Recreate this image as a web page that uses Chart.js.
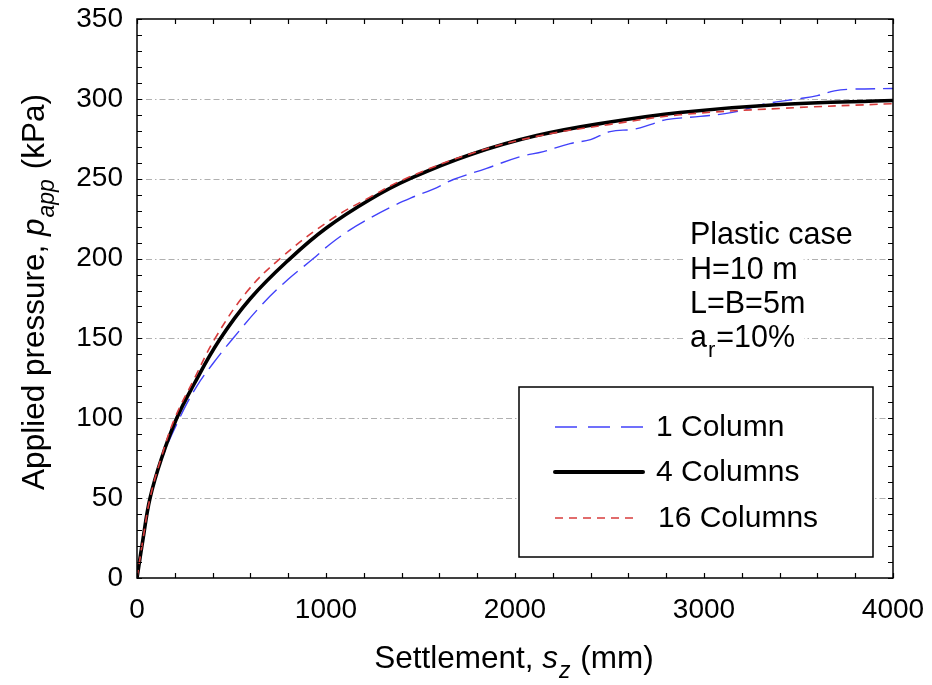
<!DOCTYPE html>
<html><head><meta charset="utf-8">
<script src="https://cdn.jsdelivr.net/npm/chart.js@4.4.1/dist/chart.umd.min.js"></script>
<style>html,body{margin:0;padding:0;background:#fff;} #wrap{width:932px;height:685px;}</style>
</head><body><div id="wrap"><canvas id="c" width="932" height="685"></canvas></div>
<script>
// ---- data ----
const seriesNames = ['1 Column', '4 Columns', '16 Columns'];
const sBlue = [0, 33, 69, 130, 225, 316, 400, 501, 668, 800, 933, 1021, 1127, 1197, 1339, 1450, 1568, 1674, 1850, 2026, 2150, 2291, 2400, 2503, 2630, 2720, 2800, 2980, 3150, 3330, 3500, 3600, 3690, 3770, 4000];
const pBlue = [0, 24, 49, 74, 100, 120, 134, 149, 172, 187, 200, 209, 218, 223, 232, 238, 243.5, 249.5, 256.5, 263.8, 267, 272, 274.5, 279.5, 281, 284, 287, 289, 291.5, 297, 300, 302, 305, 306, 306.5];
const sBlack = [0, 30, 69, 130, 210, 300, 436, 600, 810, 1000, 1233, 1444, 1762, 2115, 2503, 2873, 3400, 4000];
const pBlack = [0, 23, 50, 75, 100, 121, 149, 175, 200, 219, 237, 250, 265, 277, 285.5, 291.5, 296.5, 299];
const sRed = [0, 30, 69, 130, 200, 300, 413, 580, 757, 1021, 1233, 1420, 1762, 2115, 2503, 2873, 3400, 4000];
const pRed = [0, 23, 50, 76, 100, 124, 150, 179, 200, 224, 238.5, 250, 265.5, 276.5, 284, 290, 294, 297];
const xTickLabels = [0, 1000, 2000, 3000, 4000];
const yTickLabels = [0, 50, 100, 150, 200, 250, 300, 350];
const xTitle = ['Settlement, ', 's', 'z', ' (mm)'];
const yTitle = ['Applied pressure, ', 'p', 'app', ' (kPa)'];
const noteLines = ['Plastic case', 'H=10 m', 'L=B=5m'];
const noteLast = ['a', 'r', '=10%'];

const FONT = '"Liberation Sans", Arial, Helvetica, sans-serif';
const pts = (xs, ys) => xs.map((v, i) => ({x: v, y: ys[i]}));

const styles = [
  {color: 'rgb(65,65,250)', width: 1.4, dash: [20, 8]},
  {color: '#000000', width: 3.6, dash: []},
  {color: 'rgb(215,60,60)', width: 1.6, dash: [8, 6]}
];

function drawRich(ctx, parts, x, y, size, align) {
  const widths = parts.map(p => {
    ctx.font = (p.italic ? 'italic ' : '') + (p.sub ? Math.round(size * 0.72) : size) + 'px ' + FONT;
    return ctx.measureText(p.t).width + (p.sub ? 2 : 0);
  });
  const total = widths.reduce((a, b) => a + b, 0);
  let cx = align === 'center' ? x - total / 2 : x;
  parts.forEach((p, i) => {
    ctx.font = (p.italic ? 'italic ' : '') + (p.sub ? Math.round(size * 0.72) : size) + 'px ' + FONT;
    ctx.fillText(p.t, cx + (p.sub ? 1 : 0), y + (p.sub ? size * 0.32 : 0));
    cx += widths[i];
  });
  return total;
}

const deco = {
  id: 'deco',
  beforeDatasetsDraw(chart) {
    const {ctx, chartArea: a, scales: {y}} = chart;
    ctx.save();
    ctx.strokeStyle = '#b0b0b0';
    ctx.lineWidth = 1;
    ctx.setLineDash([6, 3, 6, 3, 1.5, 3]);
    yTickLabels.forEach(v => {
      if (v <= 0 || v >= 350) return;
      const py = Math.round(y.getPixelForValue(v)) + 0.5;
      ctx.beginPath(); ctx.moveTo(a.left, py); ctx.lineTo(a.right, py); ctx.stroke();
    });
    ctx.restore();
  },
  afterDatasetsDraw(chart) {
    const {ctx, chartArea: a, scales: {x, y}} = chart;
    ctx.save();
    ctx.fillStyle = '#000';
    ctx.strokeStyle = '#000';
    ctx.lineWidth = 1.5;
    ctx.strokeRect(a.left, a.top, a.right - a.left, a.bottom - a.top);
    ctx.lineWidth = 1.2;
    for (let v = 0; v <= 350; v += 10) {
      const py = Math.round(y.getPixelForValue(v)) + 0.5;
      ctx.beginPath();
      ctx.moveTo(a.left, py); ctx.lineTo(a.left + 5, py);
      ctx.moveTo(a.right, py); ctx.lineTo(a.right - 5, py);
      ctx.stroke();
    }
    for (let v = 0; v <= 4000; v += 200) {
      const px = Math.round(x.getPixelForValue(v)) + 0.5;
      ctx.beginPath();
      ctx.moveTo(px, a.bottom); ctx.lineTo(px, a.bottom - 5);
      ctx.moveTo(px, a.top); ctx.lineTo(px, a.top + 5);
      ctx.stroke();
    }
    ctx.font = '28px ' + FONT;
    ctx.textAlign = 'right'; ctx.textBaseline = 'middle';
    yTickLabels.forEach(v => ctx.fillText(String(v), a.left - 14, y.getPixelForValue(v)));
    ctx.textAlign = 'center'; ctx.textBaseline = 'top';
    xTickLabels.forEach(v => ctx.fillText(String(v), x.getPixelForValue(v), a.bottom + 18));
    ctx.textAlign = 'left'; ctx.textBaseline = 'alphabetic';
    drawRich(ctx, [{t: xTitle[0]}, {t: xTitle[1], italic: true}, {t: xTitle[2], italic: true, sub: true}, {t: xTitle[3]}], 514, 668, 31.5, 'center');
    ctx.save();
    ctx.translate(44, 292);
    ctx.rotate(-Math.PI / 2);
    drawRich(ctx, [{t: yTitle[0]}, {t: yTitle[1], italic: true}, {t: yTitle[2], italic: true, sub: true}, {t: yTitle[3]}], 0, 0, 31.5, 'center');
    ctx.restore();
    const nx = 690, base = [244, 279, 313, 347];
    ctx.font = '30.5px ' + FONT;
    noteLines.forEach((t, i) => {
      const w = ctx.measureText(t).width;
      ctx.fillStyle = '#fff'; ctx.fillRect(nx - 6, base[i] - 25, w + 12, 33);
      ctx.fillStyle = '#000'; ctx.fillText(t, nx, base[i]);
    });
    ctx.fillStyle = '#fff'; ctx.fillRect(nx - 6, base[3] - 25, 120, 40);
    ctx.fillStyle = '#000';
    drawRich(ctx, [{t: noteLast[0]}, {t: noteLast[1], sub: true}, {t: noteLast[2]}], nx, base[3], 30.5, 'left');
    const lx = 519, ly = 387, lw = 354, lh = 170;
    ctx.fillStyle = '#fff'; ctx.fillRect(lx, ly, lw, lh);
    ctx.lineWidth = 1.5; ctx.strokeStyle = '#000';
    ctx.strokeRect(lx, ly, lw, lh);
    const rows = [427, 472, 518];
    const sampleEnd = [643, 643, 636];
    seriesNames.forEach((n, i) => {
      const st = styles[i];
      ctx.save();
      ctx.strokeStyle = st.color; ctx.lineWidth = i === 1 ? 4 : st.width;
      ctx.lineCap = i === 1 ? 'round' : 'butt';
      ctx.setLineDash(i === 0 ? [22, 11] : st.dash);
      ctx.beginPath(); ctx.moveTo(555, rows[i]); ctx.lineTo(sampleEnd[i], rows[i]); ctx.stroke();
      ctx.restore();
      ctx.fillStyle = '#000';
      ctx.font = '30px ' + FONT;
      ctx.textBaseline = 'middle';
      ctx.fillText(n, i === 2 ? 658 : 656, rows[i] + 1);
      ctx.textBaseline = 'alphabetic';
    });
    ctx.restore();
  }
};

new Chart(document.getElementById('c'), {
  type: 'line',
  data: {
    datasets: [
      {label: seriesNames[0], data: pts(sBlue, pBlue), borderColor: styles[0].color, borderWidth: styles[0].width, borderDash: styles[0].dash, order: 3},
      {label: seriesNames[1], data: pts(sBlack, pBlack), borderColor: styles[1].color, borderWidth: styles[1].width, borderDash: styles[1].dash, order: 2},
      {label: seriesNames[2], data: pts(sRed, pRed), borderColor: styles[2].color, borderWidth: styles[2].width, borderDash: styles[2].dash, order: 1}
    ]
  },
  options: {
    responsive: false,
    animation: false,
    devicePixelRatio: 1,
    layout: {padding: {left: 137, right: 39, top: 19, bottom: 107}},
    elements: {point: {radius: 0}, line: {tension: 0.4, fill: false}},
    plugins: {legend: {display: false}, tooltip: {enabled: false}},
    scales: {
      x: {type: 'linear', min: 0, max: 4000, display: false},
      y: {type: 'linear', min: 0, max: 350, display: false}
    }
  },
  plugins: [deco]
});
</script>
</body></html>
